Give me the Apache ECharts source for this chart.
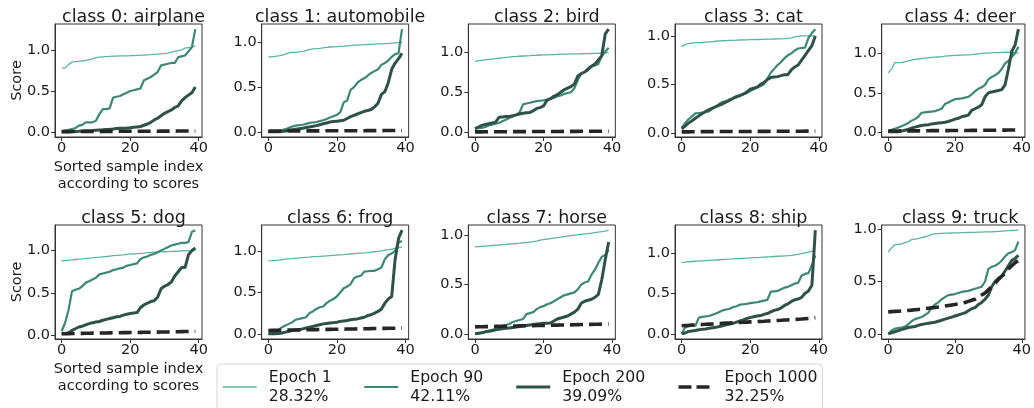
<!DOCTYPE html>
<html>
<head>
<meta charset="utf-8">
<script src="https://cdn.jsdelivr.net/npm/echarts@6/dist/echarts.min.js"></script>
<style>
  html, body { margin: 0; padding: 0; background: #fff; }
  #chart { width: 1034px; height: 408px; }
</style>
</head>
<body>
<div id="chart"></div>
<script>
// class names, one panel each
const classNames = ['airplane', 'automobile', 'bird', 'cat', 'deer', 'dog', 'frog', 'horse', 'ship', 'truck'];

// legend
const epochNames = ['Epoch 1', 'Epoch 90', 'Epoch 200', 'Epoch 1000'];
const epochAcc = ['28.32%', '42.11%', '39.09%', '32.25%'];

// x ticks / y ticks
const xTicks = [0, 20, 40];
const yTicks = [0, 0.5, 1.0];

// sorted scores, 40 samples per class
const epoch1 = [
  [0.78,0.78,0.82,0.85,0.855,0.86,0.865,0.87,0.88,0.89,0.905,0.91,0.915,0.918,0.92,0.922,0.924,0.925,0.926,0.927,0.928,0.93,0.932,0.934,0.936,0.938,0.94,0.943,0.946,0.95,0.952,0.96,0.97,0.98,0.99,1.0,1.02,1.025,1.03,1.05],
  [0.84,0.84,0.845,0.85,0.86,0.87,0.885,0.89,0.89,0.895,0.9,0.91,0.92,0.93,0.932,0.935,0.94,0.945,0.95,0.952,0.955,0.958,0.96,0.963,0.966,0.97,0.972,0.974,0.976,0.978,0.98,0.982,0.984,0.986,0.988,0.99,0.993,0.996,0.998,1.0],
  [0.88,0.89,0.895,0.9,0.905,0.91,0.915,0.92,0.925,0.93,0.935,0.94,0.942,0.945,0.948,0.95,0.952,0.955,0.957,0.96,0.962,0.963,0.965,0.966,0.968,0.97,0.971,0.972,0.973,0.974,0.975,0.976,0.977,0.978,0.979,0.98,0.982,0.985,0.988,0.99],
  [0.89,0.91,0.92,0.925,0.93,0.93,0.932,0.935,0.938,0.94,0.945,0.948,0.95,0.952,0.954,0.955,0.956,0.958,0.959,0.96,0.961,0.962,0.963,0.964,0.965,0.966,0.967,0.968,0.969,0.97,0.972,0.975,0.98,0.99,0.995,1.0,1.0,1.0,1.0,1.0],
  [0.75,0.8,0.88,0.88,0.88,0.89,0.9,0.91,0.92,0.925,0.93,0.935,0.94,0.945,0.948,0.95,0.952,0.96,0.965,0.968,0.97,0.972,0.974,0.976,0.978,0.98,0.985,0.99,0.995,1.0,1.0,1.002,1.004,1.006,1.008,1.01,1.01,1.01,1.005,1.0],
  [0.88,0.883,0.887,0.89,0.895,0.9,0.903,0.907,0.912,0.915,0.92,0.922,0.926,0.93,0.935,0.94,0.943,0.947,0.95,0.955,0.96,0.962,0.965,0.968,0.971,0.975,0.977,0.98,0.982,0.984,0.986,0.988,0.99,0.992,0.994,0.996,0.997,0.998,0.999,1.0],
  [0.88,0.883,0.887,0.89,0.895,0.9,0.904,0.907,0.912,0.915,0.92,0.923,0.926,0.93,0.932,0.935,0.938,0.94,0.944,0.947,0.95,0.953,0.956,0.96,0.963,0.966,0.97,0.973,0.976,0.98,0.985,0.99,0.995,1.0,1.01,1.015,1.02,1.03,1.04,1.05],
  [0.88,0.883,0.886,0.889,0.892,0.895,0.898,0.9,0.903,0.906,0.91,0.912,0.915,0.918,0.922,0.925,0.93,0.935,0.94,0.95,0.955,0.96,0.965,0.97,0.975,0.98,0.985,0.99,0.995,1.0,1.004,1.008,1.012,1.016,1.02,1.025,1.03,1.035,1.04,1.05],
  [0.88,0.885,0.89,0.893,0.896,0.9,0.902,0.905,0.908,0.91,0.912,0.915,0.918,0.92,0.922,0.925,0.928,0.93,0.932,0.935,0.937,0.94,0.942,0.945,0.948,0.95,0.952,0.955,0.958,0.96,0.963,0.966,0.97,0.975,0.98,0.99,1.0,1.01,1.02,1.03],
  [0.78,0.82,0.85,0.855,0.86,0.87,0.88,0.9,0.905,0.91,0.92,0.925,0.935,0.95,0.955,0.958,0.96,0.961,0.962,0.963,0.964,0.965,0.966,0.967,0.968,0.969,0.97,0.971,0.972,0.973,0.974,0.975,0.977,0.979,0.981,0.983,0.985,0.987,0.989,0.99]
];

const epoch90 = [
  [0.01,0.02,0.03,0.04,0.05,0.08,0.09,0.12,0.12,0.12,0.14,0.22,0.28,0.28,0.29,0.42,0.43,0.44,0.46,0.48,0.5,0.51,0.52,0.53,0.63,0.65,0.67,0.7,0.73,0.81,0.82,0.83,0.84,0.84,0.91,0.92,0.93,0.98,1.03,1.25],
  [0,0,0.005,0.01,0.02,0.03,0.045,0.06,0.07,0.075,0.08,0.09,0.1,0.105,0.11,0.12,0.13,0.145,0.16,0.175,0.19,0.22,0.33,0.35,0.47,0.5,0.55,0.58,0.6,0.63,0.66,0.68,0.7,0.75,0.77,0.8,0.84,0.87,0.88,1.15],
  [0.05,0.055,0.06,0.07,0.09,0.1,0.11,0.12,0.14,0.16,0.18,0.2,0.22,0.25,0.35,0.36,0.37,0.38,0.39,0.395,0.4,0.41,0.42,0.43,0.45,0.46,0.48,0.49,0.5,0.55,0.65,0.73,0.75,0.77,0.82,0.83,0.85,0.95,1.0,1.05],
  [0.05,0.1,0.14,0.17,0.2,0.205,0.21,0.215,0.22,0.25,0.27,0.3,0.32,0.325,0.33,0.36,0.38,0.39,0.4,0.41,0.43,0.45,0.47,0.48,0.5,0.56,0.62,0.66,0.7,0.73,0.77,0.8,0.82,0.85,0.87,0.875,0.88,0.98,1.03,1.07],
  [0.02,0.035,0.05,0.065,0.08,0.1,0.12,0.15,0.17,0.2,0.25,0.255,0.26,0.265,0.27,0.285,0.3,0.36,0.38,0.4,0.42,0.425,0.43,0.44,0.45,0.48,0.52,0.55,0.57,0.6,0.67,0.7,0.72,0.75,0.8,0.87,0.9,0.95,1.0,1.08],
  [0.05,0.15,0.3,0.52,0.54,0.55,0.58,0.62,0.64,0.66,0.68,0.72,0.73,0.74,0.75,0.77,0.78,0.79,0.8,0.82,0.83,0.84,0.85,0.9,0.92,0.93,0.95,0.96,0.98,1.0,1.02,1.04,1.06,1.07,1.08,1.09,1.09,1.1,1.22,1.24],
  [0,0.01,0.02,0.05,0.08,0.1,0.12,0.14,0.17,0.18,0.19,0.2,0.25,0.27,0.3,0.32,0.33,0.37,0.4,0.42,0.45,0.5,0.55,0.57,0.6,0.67,0.69,0.7,0.75,0.755,0.76,0.76,0.78,0.8,0.9,0.95,0.97,1.0,1.1,1.12],
  [0,0.005,0.01,0.02,0.03,0.04,0.05,0.06,0.08,0.09,0.1,0.12,0.13,0.14,0.15,0.2,0.21,0.22,0.25,0.27,0.28,0.3,0.31,0.33,0.35,0.37,0.39,0.4,0.41,0.42,0.45,0.5,0.52,0.53,0.6,0.65,0.72,0.78,0.8,0.85],
  [0,0.08,0.09,0.1,0.1,0.2,0.21,0.215,0.22,0.235,0.25,0.27,0.29,0.3,0.31,0.33,0.34,0.36,0.365,0.37,0.38,0.385,0.39,0.4,0.41,0.42,0.52,0.525,0.53,0.55,0.57,0.58,0.6,0.62,0.63,0.72,0.74,0.75,0.85,0.97],
  [0,0.03,0.05,0.055,0.06,0.07,0.09,0.12,0.14,0.15,0.16,0.18,0.2,0.25,0.28,0.3,0.33,0.35,0.37,0.375,0.38,0.39,0.4,0.405,0.41,0.42,0.43,0.44,0.45,0.5,0.62,0.64,0.65,0.67,0.7,0.74,0.77,0.78,0.8,0.88]
];

const epoch200 = [
  [0.005,0.005,0.006,0.008,0.01,0.012,0.015,0.018,0.02,0.022,0.025,0.028,0.03,0.033,0.036,0.04,0.045,0.048,0.05,0.052,0.055,0.06,0.065,0.07,0.085,0.1,0.12,0.15,0.17,0.2,0.23,0.25,0.27,0.3,0.32,0.38,0.42,0.45,0.48,0.55],
  [0,0,0,0,0.005,0.01,0.02,0.025,0.03,0.035,0.04,0.048,0.055,0.062,0.07,0.08,0.09,0.1,0.11,0.115,0.12,0.125,0.13,0.15,0.17,0.185,0.2,0.215,0.23,0.24,0.25,0.28,0.32,0.42,0.45,0.55,0.7,0.77,0.82,0.88],
  [0.05,0.07,0.09,0.1,0.11,0.12,0.13,0.19,0.195,0.2,0.2,0.21,0.22,0.23,0.24,0.245,0.25,0.27,0.3,0.31,0.33,0.4,0.42,0.45,0.47,0.5,0.53,0.55,0.57,0.6,0.7,0.73,0.75,0.79,0.82,0.85,0.9,0.95,1.22,1.28],
  [0.04,0.07,0.1,0.125,0.15,0.175,0.2,0.22,0.24,0.255,0.27,0.285,0.3,0.32,0.34,0.355,0.37,0.385,0.4,0.42,0.45,0.46,0.47,0.5,0.52,0.55,0.57,0.575,0.58,0.59,0.6,0.6,0.65,0.68,0.7,0.75,0.8,0.85,0.9,1.0],
  [0.01,0.01,0.01,0.012,0.02,0.03,0.04,0.055,0.07,0.08,0.09,0.095,0.1,0.11,0.115,0.12,0.125,0.13,0.14,0.155,0.17,0.18,0.2,0.21,0.22,0.28,0.3,0.32,0.35,0.45,0.5,0.51,0.52,0.53,0.54,0.6,0.8,1.02,1.1,1.3],
  [0.02,0.025,0.03,0.06,0.08,0.1,0.11,0.125,0.14,0.15,0.16,0.165,0.18,0.19,0.2,0.21,0.22,0.225,0.24,0.25,0.26,0.265,0.27,0.33,0.36,0.38,0.4,0.41,0.45,0.55,0.58,0.6,0.63,0.7,0.75,0.8,0.8,0.95,1.0,1.03],
  [0,0,0,0.005,0.01,0.02,0.03,0.04,0.045,0.05,0.06,0.07,0.08,0.09,0.1,0.11,0.12,0.125,0.13,0.135,0.14,0.15,0.155,0.16,0.17,0.175,0.18,0.19,0.2,0.22,0.23,0.25,0.27,0.3,0.37,0.42,0.45,0.9,1.15,1.25],
  [0,0.005,0.01,0.02,0.025,0.03,0.04,0.045,0.05,0.055,0.06,0.065,0.07,0.075,0.08,0.085,0.09,0.095,0.1,0.103,0.106,0.108,0.11,0.13,0.15,0.16,0.17,0.18,0.2,0.22,0.25,0.31,0.33,0.34,0.35,0.37,0.4,0.55,0.75,0.93],
  [0,0.01,0.03,0.035,0.04,0.05,0.055,0.06,0.07,0.075,0.08,0.09,0.1,0.11,0.12,0.13,0.145,0.16,0.17,0.19,0.2,0.21,0.22,0.225,0.24,0.25,0.27,0.29,0.3,0.32,0.35,0.37,0.4,0.42,0.43,0.45,0.5,0.53,0.6,1.28],
  [0,0.01,0.02,0.03,0.04,0.05,0.06,0.065,0.07,0.08,0.09,0.095,0.1,0.105,0.11,0.12,0.13,0.14,0.15,0.16,0.17,0.18,0.19,0.2,0.22,0.24,0.25,0.28,0.3,0.33,0.37,0.45,0.5,0.53,0.55,0.6,0.65,0.7,0.72,0.75]
];

const epoch1000 = [
  [0.008,0.008,0.008,0.009,0.009,0.009,0.01,0.01,0.01,0.01,0.01,0.01,0.011,0.011,0.011,0.011,0.011,0.012,0.012,0.012,0.012,0.012,0.012,0.013,0.013,0.013,0.013,0.013,0.013,0.014,0.014,0.014,0.014,0.014,0.015,0.015,0.015,0.015,0.015,0.016],
  [0.008,0.008,0.008,0.009,0.009,0.009,0.01,0.01,0.01,0.01,0.01,0.01,0.011,0.011,0.011,0.011,0.011,0.012,0.012,0.012,0.012,0.012,0.012,0.013,0.013,0.013,0.013,0.013,0.013,0.014,0.014,0.014,0.014,0.014,0.015,0.015,0.015,0.015,0.015,0.016],
  [0.01,0.01,0.01,0.011,0.011,0.011,0.012,0.012,0.012,0.012,0.012,0.013,0.013,0.013,0.013,0.013,0.014,0.014,0.014,0.014,0.014,0.015,0.015,0.015,0.015,0.015,0.016,0.016,0.016,0.016,0.016,0.017,0.017,0.017,0.017,0.017,0.018,0.018,0.018,0.018],
  [0.01,0.01,0.01,0.011,0.011,0.011,0.012,0.012,0.012,0.012,0.012,0.013,0.013,0.013,0.013,0.013,0.014,0.014,0.014,0.014,0.014,0.015,0.015,0.015,0.015,0.015,0.016,0.016,0.016,0.016,0.016,0.017,0.017,0.017,0.017,0.017,0.018,0.018,0.018,0.018],
  [0.02,0.02,0.021,0.021,0.022,0.022,0.022,0.023,0.023,0.023,0.024,0.024,0.024,0.025,0.025,0.025,0.026,0.026,0.026,0.027,0.027,0.027,0.028,0.028,0.028,0.029,0.029,0.029,0.03,0.03,0.03,0.031,0.031,0.032,0.032,0.032,0.033,0.033,0.034,0.035],
  [0.02,0.021,0.022,0.023,0.024,0.025,0.025,0.026,0.027,0.028,0.028,0.029,0.03,0.03,0.031,0.032,0.032,0.033,0.034,0.034,0.035,0.036,0.036,0.037,0.038,0.038,0.039,0.04,0.04,0.041,0.042,0.042,0.043,0.044,0.045,0.046,0.047,0.048,0.049,0.05],
  [0.04,0.041,0.042,0.043,0.043,0.044,0.045,0.046,0.046,0.047,0.048,0.049,0.049,0.05,0.051,0.052,0.052,0.053,0.054,0.055,0.055,0.056,0.057,0.058,0.058,0.059,0.06,0.061,0.061,0.062,0.063,0.064,0.064,0.065,0.066,0.067,0.067,0.068,0.069,0.07],
  [0.07,0.071,0.072,0.073,0.073,0.074,0.075,0.076,0.076,0.077,0.078,0.079,0.079,0.08,0.081,0.082,0.082,0.083,0.084,0.085,0.085,0.086,0.087,0.088,0.088,0.089,0.09,0.091,0.091,0.092,0.093,0.094,0.094,0.095,0.096,0.097,0.097,0.098,0.099,0.1],
  [0.1,0.103,0.105,0.108,0.11,0.113,0.115,0.118,0.12,0.122,0.125,0.127,0.13,0.132,0.134,0.136,0.138,0.14,0.142,0.145,0.147,0.149,0.151,0.153,0.155,0.158,0.16,0.162,0.165,0.167,0.17,0.172,0.175,0.178,0.18,0.183,0.187,0.19,0.195,0.2],
  [0.21,0.212,0.214,0.216,0.218,0.22,0.223,0.226,0.23,0.233,0.236,0.24,0.244,0.248,0.252,0.256,0.26,0.265,0.27,0.275,0.28,0.285,0.29,0.3,0.31,0.32,0.33,0.35,0.37,0.39,0.42,0.45,0.48,0.52,0.55,0.58,0.62,0.65,0.68,0.7]
];

const seriesData = [epoch1, epoch90, epoch200, epoch1000];
const lineColors = ['#58b5a1', '#3e8775', '#2e5148', '#262626'];
const lineWidths = [1.3, 2.2, 3, 3.6];
const lineTypes = ['solid', 'solid', 'solid', [13, 6]];

const FONT = 'DejaVu Sans';
const INK = '#1a1a1a';
const AXC = '#333';

const chart = echarts.init(document.getElementById('chart'), null, { renderer: 'canvas' });

const grids = [], xAxes = [], yAxes = [], titles = [], series = [];

classNames.forEach((name, i) => {
  const row = Math.floor(i / 5), col = i % 5;
  const left = 55 + 206.67 * col;
  const top = row === 0 ? 24 : 225;
  const width = 147, height = row === 0 ? 113 : 114;
  grids.push({ left: left, top: top, width: width, height: height, show: true,
    borderColor: AXC, borderWidth: 1, backgroundColor: 'transparent' });

  // matplotlib-style 5% autoscale margin
  let lo = Infinity, hi = -Infinity;
  seriesData.forEach(s => s[i].forEach(v => { lo = Math.min(lo, v); hi = Math.max(hi, v); }));
  const pad = (hi - lo) * 0.05;

  const showNames = col === 0;
  xAxes.push({
    gridIndex: i, type: 'value', min: -1.95, max: 40.95,
    axisLine: { show: true, onZero: false, lineStyle: { color: AXC, width: 1 } },
    axisTick: { show: true, length: 4, customValues: xTicks, lineStyle: { color: AXC } },
    axisLabel: { show: true, customValues: xTicks, margin: 4, color: INK, fontSize: 14.5, fontFamily: FONT },
    splitLine: { show: false },
    name: showNames ? 'Sorted sample index\naccording to scores' : '',
    nameLocation: 'middle', nameGap: 22,
    nameTextStyle: { color: INK, fontSize: 14.5, fontFamily: FONT, lineHeight: 16.5 }
  });
  yAxes.push({
    gridIndex: i, type: 'value', min: lo - pad, max: hi + pad,
    axisLine: { show: true, onZero: false, lineStyle: { color: AXC, width: 1 } },
    axisTick: { show: true, length: 4, customValues: yTicks, lineStyle: { color: AXC } },
    axisLabel: { show: true, customValues: yTicks, margin: 5, color: INK, fontSize: 14.5, fontFamily: FONT,
      formatter: v => v.toFixed(1) },
    splitLine: { show: false },
    name: showNames ? 'Score' : '',
    nameLocation: 'middle', nameGap: 30, nameMoveOverlap: false,
    nameTextStyle: { color: INK, fontSize: 14.5, fontFamily: FONT }
  });
  titles.push({
    text: 'class ' + i + ': ' + name,
    left: left + width / 2, top: top - 21, textAlign: 'center',
    textStyle: { color: INK, fontSize: 17.5, fontWeight: 'normal', fontFamily: FONT }
  });

  seriesData.forEach((s, k) => {
    series.push({
      name: epochNames[k], type: 'line', xAxisIndex: i, yAxisIndex: i,
      data: s[i].map((v, j) => [j, v]),
      showSymbol: false, symbol: 'none', animation: false, silent: true,
      lineStyle: { color: lineColors[k], width: lineWidths[k], type: lineTypes[k] },
      itemStyle: { color: lineColors[k] }
    });
  });
});

chart.setOption({
  animation: false,
  backgroundColor: '#fff',
  title: titles,
  grid: grids,
  xAxis: xAxes,
  yAxis: yAxes,
  legend: {
    data: epochNames.map((n, k) => ({
      name: n,
      itemStyle: { opacity: 0 },
      lineStyle: { color: lineColors[k], width: lineWidths[k], type: k === 3 ? [13, 5] : 'solid' }
    })),
    left: 217, top: 364,
    orient: 'horizontal',
    itemWidth: 34, itemHeight: 14, itemGap: 31.5,
    padding: [4, 5, 30, 5],
    borderColor: '#d6d6d6', borderWidth: 1, borderRadius: 4,
    backgroundColor: '#fff',
    selectedMode: false,
    formatter: n => n + '\n' + epochAcc[epochNames.indexOf(n)],
    textStyle: { color: INK, fontSize: 15.7, fontFamily: FONT, lineHeight: 19, padding: [0, 0, 0, 7] }
  },
  series: series
});
</script>
</body>
</html>
